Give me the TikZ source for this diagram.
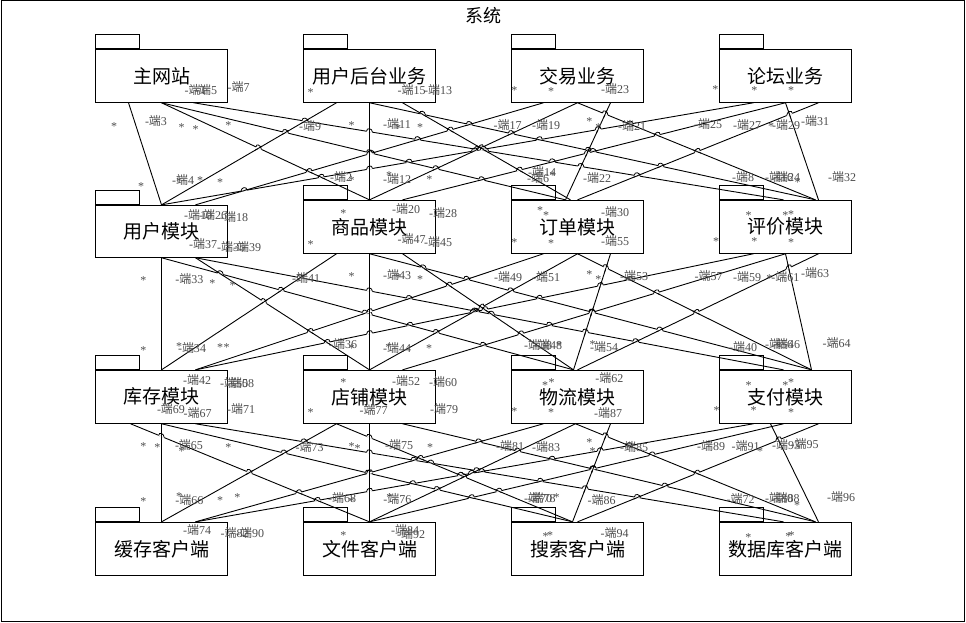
\documentclass[tikz,border=0pt]{standalone}
\usepackage{fontspec}
\setmainfont{Liberation Serif}
\newfontfamily\cjk{Noto Sans CJK SC}
\newcommand{\duan}{{\cjk 端}}
\newcommand{\assoc}[3]{\draw[assocline] (#2) coordinate (#1s) -- (#3) coordinate (#1t);}
\tikzset{
	pkg/.style={draw,minimum width=132pt,minimum height=53pt,inner sep=0pt,font=\cjk\fontsize{19}{21}\selectfont},
	pkgtab/.style={draw,minimum width=44pt,minimum height=13.5pt,inner sep=0pt,anchor=south west},
	assocline/.style={draw,line width=0.9pt},
	hop/.style={line width=0.8pt},
	endlab/.style={inner sep=0pt,text=black!70,font=\fontsize{12}{14}\selectfont},
	mult/.style={inner sep=0pt,yshift=-2pt,text=black!70,font=\fontsize{12}{14}\selectfont}
}
\begin{document}
\begin{tikzpicture}[x=1pt,y=-1pt,line width=0.9pt]
	\useasboundingbox (0,0) rectangle (966,622);
	\draw (1,0.5) rectangle (964,621.5);
	\node[font=\cjk\fontsize{18}{20}\selectfont] (title) at (483,15.5) {系统};

	\node[pkg] (web) at (161.5,75.8) {主网站};
	\node[pkg] (admin) at (369.5,75.8) {用户后台业务};
	\node[pkg] (trade) at (577.5,75.8) {交易业务};
	\node[pkg] (forum) at (785.5,75.8) {论坛业务};
	\node[pkg,minimum height=52pt] (user) at (161.5,231.3) {用户模块};
	\node[pkg] (goods) at (369.5,226.8) {商品模块};
	\node[pkg] (order) at (577.5,226.8) {订单模块};
	\node[pkg] (review) at (785.5,226.8) {评价模块};
	\node[pkg] (stock) at (161.5,396.8) {库存模块};
	\node[pkg] (shop) at (369.5,396.8) {店铺模块};
	\node[pkg] (logis) at (577.5,396.8) {物流模块};
	\node[pkg] (pay) at (785.5,396.8) {支付模块};
	\node[pkg] (cache) at (161.5,548.8) {缓存客户端};
	\node[pkg] (file) at (369.5,548.8) {文件客户端};
	\node[pkg] (search) at (577.5,548.8) {搜索客户端};
	\node[pkg] (db) at (785.5,548.8) {数据库客户端};

	\node[pkgtab] (webtab) at (web.north west) {};
	\node[pkgtab] (admintab) at (admin.north west) {};
	\node[pkgtab] (tradetab) at (trade.north west) {};
	\node[pkgtab] (forumtab) at (forum.north west) {};
	\node[pkgtab] (usertab) at (user.north west) {};
	\node[pkgtab] (goodstab) at (goods.north west) {};
	\node[pkgtab] (ordertab) at (order.north west) {};
	\node[pkgtab] (reviewtab) at (review.north west) {};
	\node[pkgtab] (stocktab) at (stock.north west) {};
	\node[pkgtab] (shoptab) at (shop.north west) {};
	\node[pkgtab] (logistab) at (logis.north west) {};
	\node[pkgtab] (paytab) at (pay.north west) {};
	\node[pkgtab] (cachetab) at (cache.north west) {};
	\node[pkgtab] (filetab) at (file.north west) {};
	\node[pkgtab] (searchtab) at (search.north west) {};
	\node[pkgtab] (dbtab) at (db.north west) {};

	\assoc{a1}{[xshift=-33]web.south}{user.north}
	\assoc{a2}{web.south}{goods.north}
	\assoc{a3}{web.south}{[xshift=-12]order.north}
	\assoc{a4}{[xshift=32]web.south}{[xshift=-2]review.north}
	\assoc{a5}{[xshift=-33]admin.south}{user.north}
	\assoc{a6}{admin.south}{goods.north}
	\assoc{a7}{[xshift=33]admin.south}{[xshift=-7]order.north}
	\assoc{a8}{admin.south}{[xshift=30]review.north}
	\assoc{a9}{[xshift=-34]trade.south}{[xshift=34]user.north}
	\assoc{a10}{trade.south}{goods.north}
	\assoc{a11}{trade.south}{[xshift=30]review.north}
	\assoc{a12}{[xshift=33]trade.south}{[xshift=-12]order.north}
	\assoc{a13}{[xshift=-32]forum.south}{user.north}
	\assoc{a14}{forum.south}{[xshift=33]goods.north}
	\assoc{a15}{[xshift=33]forum.south}{order.north}
	\assoc{a16}{forum.south}{[xshift=33]review.north}

	\assoc{b1}{user.south}{stock.north}
	\assoc{b2}{[xshift=34]user.south}{shop.north}
	\assoc{b3}{user.south}{[xshift=-4]logis.north}
	\assoc{b4}{[xshift=34]user.south}{[xshift=-2]pay.north}
	\assoc{b5}{[xshift=-33]goods.south}{stock.north}
	\assoc{b6}{goods.south}{shop.north}
	\assoc{b7}{[xshift=33]goods.south}{[xshift=-4]logis.north}
	\assoc{b8}{goods.south}{[xshift=26]pay.north}
	\assoc{b9}{[xshift=-34]order.south}{[xshift=34]stock.north}
	\assoc{b10}{order.south}{shop.north}
	\assoc{b11}{order.south}{[xshift=26]pay.north}
	\assoc{b12}{[xshift=33]order.south}{[xshift=-4]logis.north}
	\assoc{b13}{[xshift=-32]review.south}{[xshift=34]stock.north}
	\assoc{b14}{review.south}{[xshift=33]shop.north}
	\assoc{b15}{[xshift=33]review.south}{logis.north}
	\assoc{b16}{review.south}{[xshift=26]pay.north}

	\assoc{c1}{stock.south}{cache.north}
	\assoc{c2}{[xshift=-31]stock.south}{file.north}
	\assoc{c3}{stock.south}{[xshift=-5]search.north}
	\assoc{c4}{[xshift=34]stock.south}{[xshift=-2]db.north}
	\assoc{c5}{[xshift=-33]shop.south}{cache.north}
	\assoc{c6}{shop.south}{file.north}
	\assoc{c7}{[xshift=-33]shop.south}{[xshift=-5]search.north}
	\assoc{c8}{[xshift=33]shop.south}{[xshift=30]db.north}
	\assoc{c9}{[xshift=-34]logis.south}{[xshift=34]cache.north}
	\assoc{c10}{[xshift=-2]logis.south}{file.north}
	\assoc{c11}{[xshift=-2]logis.south}{[xshift=30]db.north}
	\assoc{c12}{[xshift=33]logis.south}{[xshift=-5]search.north}
	\assoc{c13}{[xshift=-32]pay.south}{[xshift=34]cache.north}
	\assoc{c14}{[xshift=-2]pay.south}{file.north}
	\assoc{c15}{[xshift=33]pay.south}{search.north}
	\assoc{c16}{[xshift=-15]pay.south}{[xshift=33]db.north}

	\foreach \tier in {a,b,c}
		\foreach \i in {1,...,15}{
			\pgfmathtruncatemacro{\inext}{\i+1}
			\foreach \j in {\inext,...,16}{
				\pgfpointanchor{\tier\i s}{center}\pgfgetlastxy{\xa}{\ya}
				\pgfpointanchor{\tier\i t}{center}\pgfgetlastxy{\xb}{\yb}
				\pgfpointanchor{\tier\j s}{center}\pgfgetlastxy{\xc}{\yc}
				\pgfpointanchor{\tier\j t}{center}\pgfgetlastxy{\xd}{\yd}
				\edef\hopd{\fpeval{(\xb-\xa)*(\yd-\yc)-(\yb-\ya)*(\xd-\xc)}}
				\ifnum\fpeval{abs(\hopd)>0.001?1:0}=1
					\edef\hopt{\fpeval{((\xc-\xa)*(\yd-\yc)-(\yc-\ya)*(\xd-\xc))/\hopd}}
					\edef\hopu{\fpeval{((\xc-\xa)*(\yb-\ya)-(\yc-\ya)*(\xb-\xa))/\hopd}}
					\ifnum\fpeval{(\hopt>0.08 && \hopt<0.92 && \hopu>0.08 && \hopu<0.92)?1:0}=1
						\edef\hopx{\fpeval{\xa+\hopt*(\xb-\xa)}}
						\edef\hopy{\fpeval{\ya+\hopt*(\yb-\ya)}}
						\edef\hopla{\fpeval{sqrt((\xb-\xa)*(\xb-\xa)+(\yb-\ya)*(\yb-\ya))}}
						\edef\hoplc{\fpeval{sqrt((\xd-\xc)*(\xd-\xc)+(\yd-\yc)*(\yd-\yc))}}
						\edef\hopux{\fpeval{(\xb-\xa)/\hopla}}
						\edef\hopuy{\fpeval{(\yb-\ya)/\hopla}}
						\edef\hopvx{\fpeval{(\xd-\xc)/\hoplc}}
						\edef\hopvy{\fpeval{(\yd-\yc)/\hoplc}}
						\ifnum\fpeval{abs(\hopuy)>abs(\hopvy)?1:0}=1
							\let\hoptmp\hopux\let\hopux\hopvx\let\hopvx\hoptmp
							\let\hoptmp\hopuy\let\hopuy\hopvy\let\hopvy\hoptmp
						\fi
						\edef\hopax{\fpeval{round(\hopx-3*\hopux,2)}}
						\edef\hopay{\fpeval{round(\hopy-3*\hopuy,2)}}
						\edef\hopbx{\fpeval{round(\hopx+3*\hopux,2)}}
						\edef\hopby{\fpeval{round(\hopy+3*\hopuy,2)}}
						\edef\hopcx{\fpeval{round(\hopx-4*\hopvx,2)}}
						\edef\hopcy{\fpeval{round(\hopy-4*\hopvy,2)}}
						\edef\hopdx{\fpeval{round(\hopx+4*\hopvx,2)}}
						\edef\hopdy{\fpeval{round(\hopy+4*\hopvy,2)}}
						\draw[white,line width=1.5pt] (\hopax pt,\hopay pt) -- (\hopbx pt,\hopby pt);
						\draw[hop] (\hopcx pt,\hopcy pt) -- (\hopdx pt,\hopdy pt);
						\draw[hop] (\hopax pt,\hopay pt) .. controls +(0pt,4pt) and ([yshift=4pt]\hopbx pt,\hopby pt) .. (\hopbx pt,\hopby pt);
					\fi
				\fi
			}
		}

	\node[endlab] (end1) at (195.5,90) {-\duan1};
	\node[endlab] (end5) at (206,90) {-\duan5};
	\node[endlab] (end7) at (238.5,87) {-\duan7};
	\node[endlab] (end3) at (156,121) {-\duan3};
	\node[endlab] (end9) at (310,126) {-\duan9};
	\node[endlab] (end4) at (183,180) {-\duan4};
	\node[endlab] (end2) at (341,177) {-\duan2};
	\node[endlab] (end15) at (411.7,90) {-\duan15};
	\node[endlab] (end13) at (438,90) {-\duan13};
	\node[endlab] (end11) at (397,123.5) {-\duan11};
	\node[endlab] (end17) at (507.7,125) {-\duan17};
	\node[endlab] (end19) at (546,125) {-\duan19};
	\node[endlab] (end21) at (632,125.5) {-\duan21};
	\node[endlab] (end23) at (615,89) {-\duan23};
	\node[endlab] (end12) at (397,178.5) {-\duan12};
	\node[endlab] (end6) at (538,178) {-\duan6};
	\node[endlab] (end14) at (542,172) {-\duan14};
	\node[endlab] (end22) at (597,178) {-\duan22};
	\node[endlab] (end8) at (743,177) {-\duan8};
	\node[endlab] (end16) at (779,176.5) {-\duan16};
	\node[endlab] (end24) at (786,176.5) {-\duan24};
	\node[endlab] (end32) at (842,177) {-\duan32};
	\node[endlab] (end25) at (708,124) {-\duan25};
	\node[endlab] (end27) at (747,125) {-\duan27};
	\node[endlab] (end29) at (786,125) {-\duan29};
	\node[endlab] (end31) at (815,121) {-\duan31};
	\node[endlab] (end10) at (198,215) {-\duan10};
	\node[endlab] (end26) at (213,215) {-\duan26};
	\node[endlab] (end18) at (234,217) {-\duan18};
	\node[endlab] (end20) at (406,209) {-\duan20};
	\node[endlab] (end28) at (443,213) {-\duan28};
	\node[endlab] (end30) at (615,212) {-\duan30};

	\node[endlab] (end37) at (203,244) {-\duan37};
	\node[endlab] (end35) at (231,247) {-\duan35};
	\node[endlab] (end39) at (247,247) {-\duan39};
	\node[endlab] (end33) at (189.3,279) {-\duan33};
	\node[endlab] (end41) at (306,277.5) {-\duan41};
	\node[endlab] (end43) at (397,275) {-\duan43};
	\node[endlab] (end34) at (192,348) {-\duan34};
	\node[endlab] (end36) at (343,344) {-\duan36};
	\node[endlab] (end44) at (397,347.7) {-\duan44};
	\node[endlab] (end45) at (438,242) {-\duan45};
	\node[endlab] (end47) at (411.7,239) {-\duan47};
	\node[endlab] (end49) at (508,276.7) {-\duan49};
	\node[endlab] (end51) at (546,277) {-\duan51};
	\node[endlab] (end53) at (634,276) {-\duan53};
	\node[endlab] (end55) at (615,241) {-\duan55};
	\node[endlab] (end38) at (538,345) {-\duan38};
	\node[endlab] (end48) at (548,345) {-\duan48};
	\node[endlab] (end54) at (604,347) {-\duan54};
	\node[endlab] (end40) at (743,347) {-\duan40};
	\node[endlab] (end56) at (779,344) {-\duan56};
	\node[endlab] (end46) at (786,344) {-\duan46};
	\node[endlab] (end64) at (836.7,343.3) {-\duan64};
	\node[endlab] (end62) at (609.3,378) {-\duan62};
	\node[endlab] (end42) at (197,380) {-\duan42};
	\node[endlab] (end50) at (234,382.7) {-\duan50};
	\node[endlab] (end58) at (240,382.7) {-\duan58};
	\node[endlab] (end52) at (406,380.7) {-\duan52};
	\node[endlab] (end60) at (443,382) {-\duan60};
	\node[endlab] (end57) at (708.5,276) {-\duan57};
	\node[endlab] (end59) at (747,276.7) {-\duan59};
	\node[endlab] (end61) at (785.3,276.7) {-\duan61};
	\node[endlab] (end63) at (815,273.3) {-\duan63};

	\node[endlab] (end69) at (171,409) {-\duan69};
	\node[endlab] (end67) at (197.7,413) {-\duan67};
	\node[endlab] (end71) at (241,409) {-\duan71};
	\node[endlab] (end65) at (189,445) {-\duan65};
	\node[endlab] (end73) at (309.5,447.3) {-\duan73};
	\node[endlab] (end77) at (373.7,410) {-\duan77};
	\node[endlab] (end79) at (444,409) {-\duan79};
	\node[endlab] (end75) at (399,444.5) {-\duan75};
	\node[endlab] (end81) at (510,446) {-\duan81};
	\node[endlab] (end83) at (546,446.7) {-\duan83};
	\node[endlab] (end85) at (634,446.7) {-\duan85};
	\node[endlab] (end87) at (608,412.7) {-\duan87};
	\node[endlab] (end89) at (711,445.7) {-\duan89};
	\node[endlab] (end91) at (745.7,445.7) {-\duan91};
	\node[endlab] (end93) at (786,445) {-\duan93};
	\node[endlab] (end95) at (804.5,444.3) {-\duan95};
	\node[endlab] (end66) at (189.3,500) {-\duan66};
	\node[endlab] (end68) at (342,498.3) {-\duan68};
	\node[endlab] (end76) at (397.3,499.3) {-\duan76};
	\node[endlab] (end70) at (538,498.3) {-\duan70};
	\node[endlab] (end78) at (541.7,498.3) {-\duan78};
	\node[endlab] (end86) at (601.7,500) {-\duan86};
	\node[endlab] (end72) at (740.5,499.3) {-\duan72};
	\node[endlab] (end80) at (779,498.3) {-\duan80};
	\node[endlab] (end88) at (785.5,498.3) {-\duan88};
	\node[endlab] (end96) at (841,497.3) {-\duan96};
	\node[endlab] (end74) at (197,530) {-\duan74};
	\node[endlab] (end82) at (234.5,532.7) {-\duan82};
	\node[endlab] (end90) at (250,532.7) {-\duan90};
	\node[endlab] (end84) at (405,530) {-\duan84};
	\node[endlab] (end92) at (411,534) {-\duan92};
	\node[endlab] (end94) at (614.5,533) {-\duan94};

	\node[mult] (m1) at (114,124.7) {*};
	\node[mult] (m2) at (181.7,125.7) {*};
	\node[mult] (m3) at (195.7,127.3) {*};
	\node[mult] (m4) at (228.3,124) {*};
	\node[mult] (m5) at (310.7,90.7) {*};
	\node[mult] (m6) at (351.7,123.3) {*};
	\node[mult] (m7) at (141,184.3) {*};
	\node[mult] (m8) at (200,178.3) {*};
	\node[mult] (m9) at (179,180) {*};
	\node[mult] (m10) at (220,180.3) {*};
	\node[mult] (m11) at (351.7,178.3) {*};
	\node[mult] (m12) at (398,126.7) {*};
	\node[mult] (m13) at (420,126) {*};
	\node[mult] (m14) at (389,173.3) {*};
	\node[mult] (m15) at (429.3,177.3) {*};
	\node[mult] (m16) at (514.3,89) {*};
	\node[mult] (m17) at (551,90) {*};
	\node[mult] (m18) at (589.3,120) {*};
	\node[mult] (m19) at (598.3,126) {*};
	\node[mult] (m20) at (552.3,173.3) {*};
	\node[mult] (m21) at (715.3,87.7) {*};
	\node[mult] (m22) at (754.3,88.3) {*};
	\node[mult] (m23) at (791,89) {*};
	\node[mult] (m24) at (771,125) {*};
	\node[mult] (m25) at (797.7,180.7) {*};
	\node[mult] (m26) at (343.3,211.7) {*};
	\node[mult] (m27) at (310.7,242.7) {*};
	\node[mult] (m28) at (540,208.3) {*};
	\node[mult] (m29) at (546,213.3) {*};
	\node[mult] (m30) at (514.3,240.7) {*};
	\node[mult] (m31) at (551,242) {*};
	\node[mult] (m32) at (748.7,214) {*};
	\node[mult] (m33) at (785.3,214) {*};
	\node[mult] (m34) at (791,212.3) {*};
	\node[mult] (m35) at (716,239.3) {*};
	\node[mult] (m36) at (754.3,240) {*};
	\node[mult] (m37) at (791,240.7) {*};
	\node[mult] (m38) at (143.3,278.3) {*};
	\node[mult] (m39) at (212.3,281.7) {*};
	\node[mult] (m40) at (232.7,283.3) {*};
	\node[mult] (m41) at (351.7,275) {*};
	\node[mult] (m42) at (143.3,348.3) {*};
	\node[mult] (m43) at (179,345) {*};
	\node[mult] (m44) at (220,345.7) {*};
	\node[mult] (m45) at (226.7,345.7) {*};
	\node[mult] (m46) at (351.7,346.7) {*};
	\node[mult] (m47) at (398.3,275.7) {*};
	\node[mult] (m48) at (420,277.3) {*};
	\node[mult] (m49) at (388.3,345.7) {*};
	\node[mult] (m50) at (429,346.7) {*};
	\node[mult] (m51) at (589.3,272.3) {*};
	\node[mult] (m52) at (598.3,277.3) {*};
	\node[mult] (m53) at (559,343.3) {*};
	\node[mult] (m54) at (592.7,342.3) {*};
	\node[mult] (m55) at (628.3,278.3) {*};
	\node[mult] (m56) at (769.3,276.7) {*};
	\node[mult] (m57) at (779,345) {*};
	\node[mult] (m58) at (343.3,380.7) {*};
	\node[mult] (m59) at (310.7,411) {*};
	\node[mult] (m60) at (545,383.3) {*};
	\node[mult] (m61) at (551.7,380.7) {*};
	\node[mult] (m62) at (514.3,410) {*};
	\node[mult] (m63) at (551,411) {*};
	\node[mult] (m64) at (748.7,384) {*};
	\node[mult] (m65) at (785.3,383.3) {*};
	\node[mult] (m66) at (791,381) {*};
	\node[mult] (m67) at (716.7,409) {*};
	\node[mult] (m68) at (753.7,409) {*};
	\node[mult] (m69) at (791,410.7) {*};
	\node[mult] (m70) at (143.3,444.3) {*};
	\node[mult] (m71) at (157.3,446) {*};
	\node[mult] (m72) at (181.7,450) {*};
	\node[mult] (m73) at (228.3,445.7) {*};
	\node[mult] (m74) at (351.7,445) {*};
	\node[mult] (m75) at (357.7,446.7) {*};
	\node[mult] (m76) at (143.3,500) {*};
	\node[mult] (m77) at (179,495) {*};
	\node[mult] (m78) at (220,498.3) {*};
	\node[mult] (m79) at (237.3,495.7) {*};
	\node[mult] (m80) at (351.7,500) {*};
	\node[mult] (m81) at (430,446) {*};
	\node[mult] (m82) at (389.3,495.7) {*};
	\node[mult] (m83) at (589.3,441) {*};
	\node[mult] (m84) at (592.7,449.3) {*};
	\node[mult] (m85) at (556.7,495.7) {*};
	\node[mult] (m86) at (628,447) {*};
	\node[mult] (m87) at (760,449.3) {*};
	\node[mult] (m88) at (797,503.3) {*};
	\node[mult] (m89) at (343.3,533.3) {*};
	\node[mult] (m90) at (545.7,535) {*};
	\node[mult] (m91) at (550,534) {*};
	\node[mult] (m92) at (748.3,535.7) {*};
	\node[mult] (m93) at (788.3,535) {*};
	\node[mult] (m94) at (791.7,534) {*};
\end{tikzpicture}
\end{document}
